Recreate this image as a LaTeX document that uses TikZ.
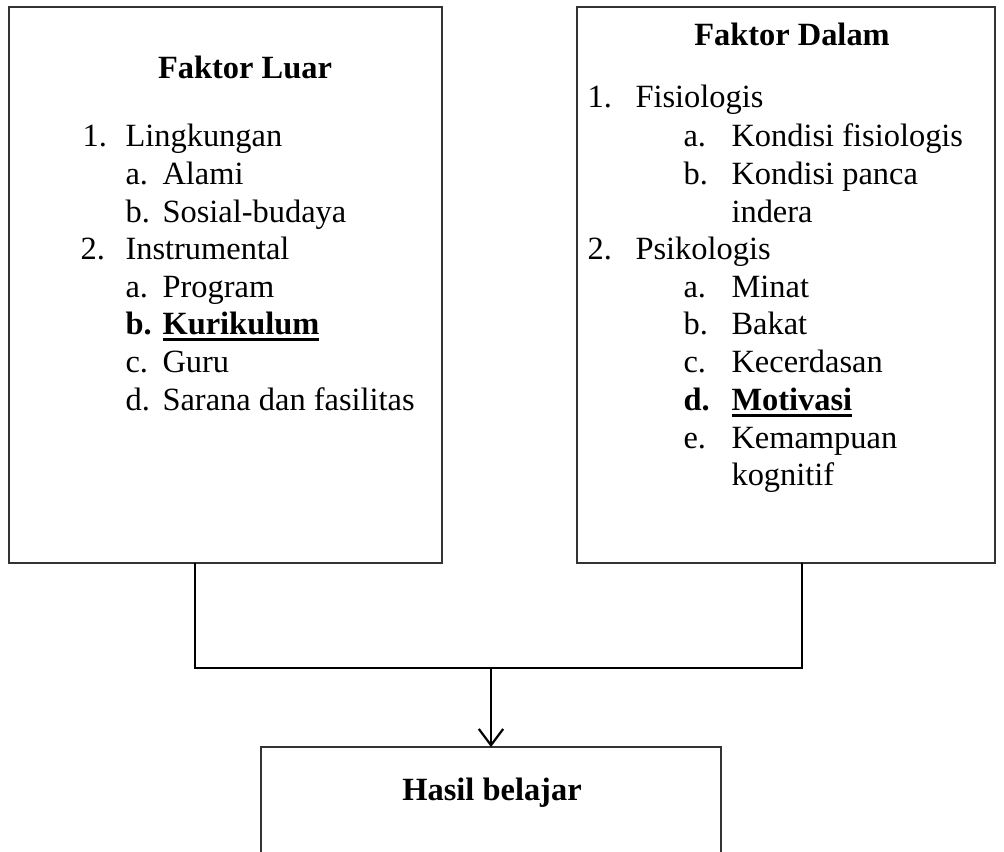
\documentclass[tikz,border=0pt]{standalone}
\usepackage{fontspec}
\setmainfont{Liberation Serif}
\usetikzlibrary{arrows.meta,calc}
\newcommand\garisbawah[1]{\setbox0\hbox{#1}\rlap{\copy0}\rule[-2.6pt]{\wd0}{1.1pt}}
\tikzset{
  kotak/.style={draw=black!80,line width=0.55pt,inner sep=0pt,outer sep=0pt},
  garis/.style={draw=black,line width=0.8pt},
  teks/.style={anchor=base west,inner sep=0pt,font=\fontsize{12}{14}\selectfont},
  judul/.style={anchor=base,inner sep=0pt,font=\fontsize{12}{14}\selectfont\bfseries}
}

\begin{document}
\begin{tikzpicture}[x=0.37pt,y=-0.37pt]
        \useasboundingbox (0,0) rectangle (1004,852);
        % kotak faktor luar dan faktor dalam
        \node[kotak,minimum width=433*0.37pt,minimum height=556*0.37pt] (luar) at (225.5,285) {};
        \node[kotak,minimum width=418*0.37pt,minimum height=556*0.37pt] (dalam) at (786,285) {};
        % kotak hasil belajar (terpotong di bawah)
        \node[inner sep=0pt,outer sep=0pt,minimum width=460*0.37pt,minimum height=153*0.37pt] (hasil) at (491,823.5) {};
        \draw[kotak] (hasil.south west) -- (hasil.north west) -- (hasil.north east) -- (hasil.south east);

        % isi faktor luar
        \node[judul] (judulL) at (245,78) {Faktor Luar};
        \node[teks] (l1n) at (82,146) {1.};
        \node[teks] (l1) at (125,146) {Lingkungan};
        \node[teks] (l1an) at (125,184) {a.};
        \node[teks] (l1a) at (162,184) {Alami};
        \node[teks] (l1bn) at (125,222) {b.};
        \node[teks] (l1b) at (162,222) {Sosial-budaya};
        \node[teks] (l2n) at (80,259) {2.};
        \node[teks] (l2) at (125,259) {Instrumental};
        \node[teks] (l2an) at (125,297) {a.};
        \node[teks] (l2a) at (162,297) {Program};
        \node[teks,font=\fontsize{12}{14}\selectfont\bfseries] (l2bn) at (125,334) {b.};
        \node[teks,font=\fontsize{12}{14}\selectfont\bfseries] (l2b) at (162,334) {\garisbawah{Kurikulum}};
        \node[teks] (l2cn) at (125,372) {c.};
        \node[teks] (l2c) at (162,372) {Guru};
        \node[teks] (l2dn) at (125,410) {d.};
        \node[teks] (l2d) at (162,410) {Sarana dan fasilitas};

        % isi faktor dalam
        \node[judul] (judulD) at (792,45) {Faktor Dalam};
        \node[teks] (d1n) at (587,107) {1.};
        \node[teks] (d1) at (635,107) {Fisiologis};
        \node[teks] (d1an) at (683,146) {a.};
        \node[teks] (d1a) at (731,146) {Kondisi fisiologis};
        \node[teks] (d1bn) at (683,184) {b.};
        \node[teks] (d1b) at (731,184) {Kondisi panca};
        \node[teks] (d1b2) at (731,222) {indera};
        \node[teks] (d2n) at (587,259) {2.};
        \node[teks] (d2) at (635,259) {Psikologis};
        \node[teks] (d2an) at (683,297) {a.};
        \node[teks] (d2a) at (731,297) {Minat};
        \node[teks] (d2bn) at (683,334) {b.};
        \node[teks] (d2b) at (731,334) {Bakat};
        \node[teks] (d2cn) at (683,372) {c.};
        \node[teks] (d2c) at (731,372) {Kecerdasan};
        \node[teks,font=\fontsize{12}{14}\selectfont\bfseries] (d2dn) at (683,410) {d.};
        \node[teks,font=\fontsize{12}{14}\selectfont\bfseries] (d2d) at (731,410) {\garisbawah{Motivasi}};
        \node[teks] (d2en) at (683,448) {e.};
        \node[teks] (d2e) at (731,448) {Kemampuan};
        \node[teks] (d2e2) at (731,485) {kognitif};

        \node[judul] (judulH) at (492,800) {Hasil belajar};

        % garis penghubung
        \coordinate (kiri) at ($(luar.south west)!0.43!(luar.south east)$);
        \coordinate (kanan) at ($(dalam.south west)!0.538!(dalam.south east)$);
        \coordinate (tengah) at ($(hasil.north)+(0,-79)$);
        \draw[garis] (kiri) -- ++(0,105) -| (kanan);
        \draw[garis,-{Straight Barb[length=6pt,width=9pt,line width=0.8pt]}] (tengah) -- (hasil.north);
\end{tikzpicture}
\end{document}
